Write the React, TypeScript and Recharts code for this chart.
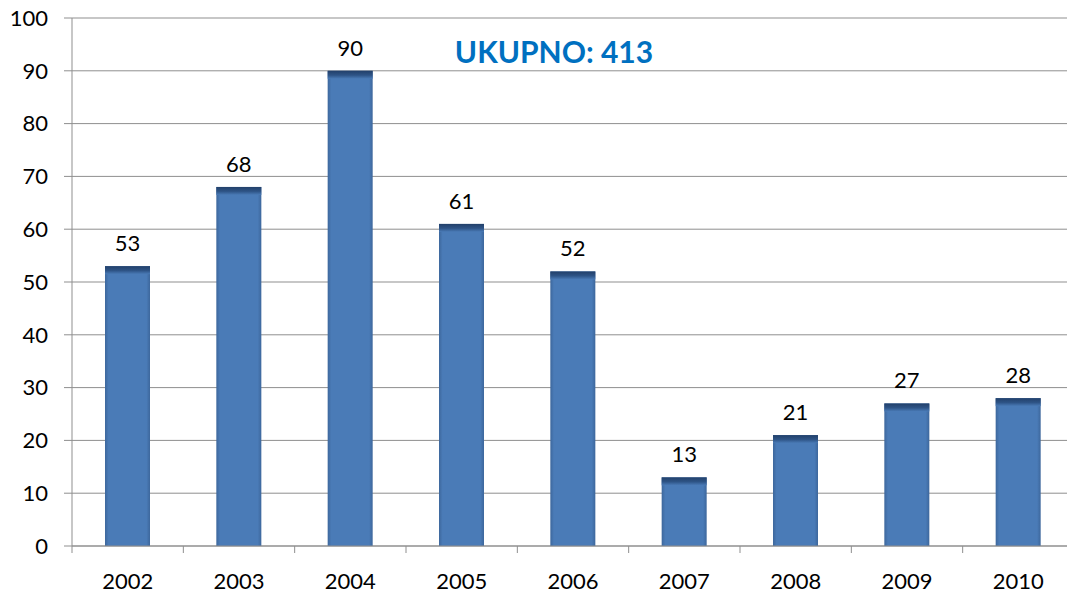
import { Bar, BarChart, CartesianGrid, LabelList, XAxis, YAxis } from "recharts";

const years = ["2002", "2003", "2004", "2005", "2006", "2007", "2008", "2009", "2010"];
const counts = [53, 68, 90, 61, 52, 13, 21, 27, 28];
const yTicks = [0, 10, 20, 30, 40, 50, 60, 70, 80, 90, 100];
const totalLabel = "UKUPNO: 413";

const data = years.map((year, i) => ({ year, count: counts[i] }));

const FONT = "Lato, 'Open Sans', sans-serif";
const GRID = "#8f8f8f";
const AXIS_Y = 546; // top of x axis area (chart height - axis height)

const ShadedBar = (props: any) => {
  const { x, y, width, height } = props;
  if (!height || height <= 0) return null;
  const cap = Math.min(8, height);
  return (
    <g>
      <rect x={x} y={y} width={width} height={height} fill="url(#barBody)" />
      <rect x={x} y={y} width={width} height={cap} fill="url(#barCap)" />
    </g>
  );
};

// Excel-style ticks sit between categories, not under them
const YearTick = (props: any) => {
  const { x, payload, width } = props;
  const band = width / years.length;
  return (
    <g>
      <line x1={x - band / 2} x2={x - band / 2} y1={AXIS_Y} y2={AXIS_Y + 7} stroke={GRID} />
      <text x={x} y={AXIS_Y + 43} textAnchor="middle" fill="#000" fontSize={22} fontFamily={FONT}>
        {payload.value}
      </text>
    </g>
  );
};

export default function App() {
  return (
    <div
      style={{
        position: "absolute",
        left: 0,
        top: 0,
        width: 1067,
        height: 596,
        overflow: "hidden",
        background: "#fff",
      }}
    >
      <BarChart
        width={1074}
        height={596}
        data={data}
        margin={{ top: 18, right: 0, bottom: 0, left: 0 }}
      >
        <defs>
          <linearGradient id="barBody" x1="0" y1="0" x2="1" y2="0">
            <stop offset="0%" stopColor="#3d679c" />
            <stop offset="8%" stopColor="#4a7bb7" />
            <stop offset="92%" stopColor="#4a7bb7" />
            <stop offset="100%" stopColor="#3d679c" />
          </linearGradient>
          <linearGradient id="barCap" x1="0" y1="0" x2="0" y2="1">
            <stop offset="0%" stopColor="#22406a" />
            <stop offset="55%" stopColor="#2e5486" />
            <stop offset="100%" stopColor="#4a7bb7" />
          </linearGradient>
        </defs>
        <CartesianGrid vertical={false} stroke={GRID} />
        <XAxis
          dataKey="year"
          axisLine={{ stroke: GRID }}
          tickLine={false}
          height={50}
          tick={<YearTick />}
          interval={0}
        />
        <YAxis
          domain={[0, 100]}
          ticks={yTicks}
          width={72}
          axisLine={{ stroke: GRID }}
          tickLine={{ stroke: GRID }}
          tickSize={8}
          tickMargin={16}
          tick={{ fill: "#000", fontSize: 22, fontFamily: FONT }}
          interval={0}
        />
        <Bar dataKey="count" barSize={45} shape={<ShadedBar />} isAnimationActive={false}>
          <LabelList
            dataKey="count"
            position="top"
            offset={15}
            fill="#000"
            fontSize={22}
            fontFamily={FONT}
          />
        </Bar>
      </BarChart>
      <div
        style={{
          position: "absolute",
          left: 404,
          top: 32,
          width: 300,
          textAlign: "center",
          color: "#0070c0",
          fontFamily: FONT,
          fontWeight: 700,
          fontSize: 30,
          lineHeight: "38px",
          whiteSpace: "nowrap",
        }}
      >
        {totalLabel}
      </div>
    </div>
  );
}
